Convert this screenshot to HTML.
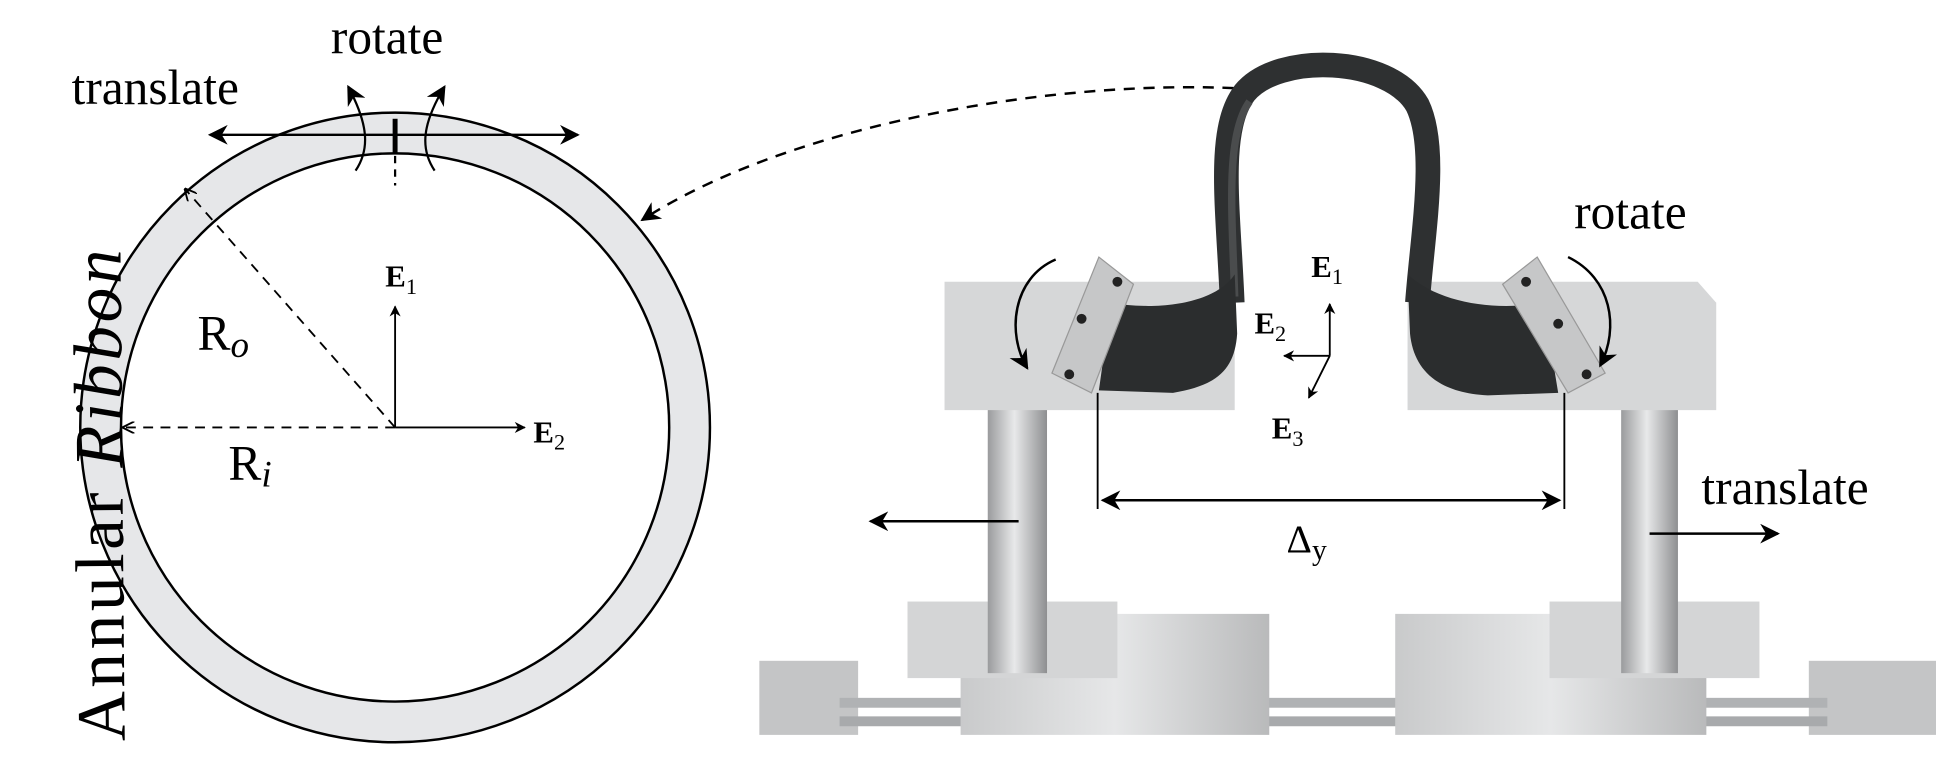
<!DOCTYPE html>
<html><head><style>html,body{margin:0;padding:0;background:#fff}svg{display:block}</style></head>
<body>
<svg width="1936" height="766" viewBox="0 0 1568 620" xmlns="http://www.w3.org/2000/svg" font-family="Liberation Serif, serif">
<defs>
<marker id="a" viewBox="0 0 10 10" refX="9" refY="5" markerWidth="9" markerHeight="9" orient="auto-start-reverse" markerUnits="userSpaceOnUse"><path d="M0,0 L10,5 L0,10 L3,5z" fill="#000"/></marker>
<marker id="b" viewBox="0 0 10 10" refX="9" refY="5" markerWidth="16" markerHeight="16" orient="auto-start-reverse" markerUnits="userSpaceOnUse"><path d="M0,0 L10,5 L0,10 L3,5z" fill="#000"/></marker>
<marker id="o" viewBox="0 0 10 10" refX="9" refY="5" markerWidth="10" markerHeight="10" orient="auto" markerUnits="userSpaceOnUse"><path d="M0,0 L10,5 L0,10" fill="none" stroke="#000" stroke-width="1.5"/></marker>
<linearGradient id="m" x1="0" x2="1"><stop offset="0" stop-color="#c9cacb"/><stop offset=".5" stop-color="#e6e7e8"/><stop offset="1" stop-color="#b9babb"/></linearGradient>
<linearGradient id="p" x1="0" x2="1"><stop offset="0" stop-color="#9a9b9d"/><stop offset=".45" stop-color="#e8e9ea"/><stop offset="1" stop-color="#8e8f91"/></linearGradient>
</defs>
<!-- left diagram -->
<circle cx="320" cy="346" r="239" fill="none" stroke="#e6e7e9" stroke-width="33"/>
<circle cx="320" cy="346" r="255" fill="none" stroke="#000" stroke-width="2"/>
<circle cx="320" cy="346" r="222" fill="none" stroke="#000" stroke-width="2"/>
<line x1="320" y1="346" x2="320" y2="248" stroke="#000" stroke-width="1.5" marker-end="url(#a)"/>
<line x1="320" y1="346" x2="425" y2="346" stroke="#000" stroke-width="1.5" marker-end="url(#a)"/>
<line x1="320" y1="346" x2="100" y2="346" stroke="#000" stroke-width="1.5" stroke-dasharray="8,6" marker-end="url(#o)"/>
<line x1="320" y1="346" x2="150" y2="153" stroke="#000" stroke-width="1.5" stroke-dasharray="8,6" marker-end="url(#o)"/>
<line x1="170" y1="109" x2="468" y2="109" stroke="#000" stroke-width="2" marker-start="url(#b)" marker-end="url(#b)"/>
<line x1="320" y1="96" x2="320" y2="124" stroke="#000" stroke-width="4"/>
<line x1="320" y1="126" x2="320" y2="150" stroke="#000" stroke-width="1.8" stroke-dasharray="6,5"/>
<path d="M288,138 C300,120 298,100 282,70" fill="none" stroke="#000" stroke-width="1.8" marker-end="url(#b)"/>
<path d="M352,138 C340,120 342,100 360,70" fill="none" stroke="#000" stroke-width="1.8" marker-end="url(#b)"/>
<text x="268" y="43" font-size="40">rotate</text>
<text x="58" y="84" font-size="40">translate</text>
<text x="312" y="232" font-size="25" font-weight="bold">E<tspan font-size="18" font-weight="normal" dy="6">1</tspan></text>
<text x="432" y="358" font-size="25" font-weight="bold">E<tspan font-size="18" font-weight="normal" dy="6">2</tspan></text>
<text x="160" y="283" font-size="40">R<tspan font-style="italic" font-size="30" dy="6">o</tspan></text>
<text x="185" y="388" font-size="40">R<tspan font-style="italic" font-size="30" dy="6">i</tspan></text>
<text transform="translate(101,600) rotate(-90.5)" font-size="56" letter-spacing="3">Annular <tspan font-style="italic">Ribbon</tspan></text>
<path d="M1015,72 C860,62 640,100 520,178" fill="none" stroke="#000" stroke-width="2" stroke-dasharray="9,7" marker-end="url(#b)"/>
<!-- photo -->
<rect x="615" y="535" width="80" height="60" fill="#c4c5c6"/>
<rect x="1465" y="535" width="103" height="60" fill="#c4c5c6"/>
<rect x="680" y="565" width="800" height="8" fill="#b0b2b4"/><rect x="680" y="580" width="800" height="8" fill="#a8aaac"/>
<rect x="778" y="497" width="250" height="98" fill="url(#m)"/>
<rect x="1130" y="497" width="252" height="98" fill="url(#m)"/>
<rect x="735" y="487" width="170" height="62" fill="#d4d5d6"/>
<rect x="1255" y="487" width="170" height="62" fill="#d4d5d6"/>
<rect x="800" y="330" width="48" height="215" fill="url(#p)"/>
<rect x="1313" y="330" width="46" height="215" fill="url(#p)"/>
<path d="M765,228 L1000,228 L1000,332 L765,332 L765,245z" fill="#d6d7d8"/>
<path d="M1140,228 L1375,228 L1390,245 L1390,332 L1140,332z" fill="#d6d7d8"/>
<!-- ribbon loop -->
<path d="M998,245 C995,170 985,105 1008,75 C1035,42 1125,45 1148,85 C1165,120 1152,190 1148,245" fill="none" stroke="#2e3031" stroke-width="20"/>
<path d="M1000,240 C998,175 992,110 1012,82" fill="none" stroke="#4a4c4d" stroke-width="6"/>
<!-- bowls -->
<path d="M900,245 C940,252 985,245 1000,222 L1002,270 C1000,300 985,312 950,318 L890,316z" fill="#2b2d2e"/>
<path d="M1250,245 C1210,252 1165,245 1140,222 L1142,270 C1145,300 1165,318 1205,320 L1262,318z" fill="#2b2d2e"/>
<!-- clamps -->
<path d="M890,208 L918,230 L884,318 L852,302z" fill="#c6c7c8" stroke="#999" stroke-width="1"/>
<path d="M1245,208 L1217,230 L1270,318 L1300,302z" fill="#c6c7c8" stroke="#999" stroke-width="1"/>
<circle cx="905" cy="228" r="4" fill="#222"/><circle cx="876" cy="258" r="4" fill="#222"/><circle cx="866" cy="303" r="4" fill="#222"/>
<circle cx="1236" cy="228" r="4" fill="#222"/><circle cx="1262" cy="262" r="4" fill="#222"/><circle cx="1285" cy="303" r="4" fill="#222"/>
<!-- photo annotations -->
<line x1="889" y1="318" x2="889" y2="412" stroke="#000" stroke-width="1.5"/>
<line x1="1267" y1="318" x2="1267" y2="412" stroke="#000" stroke-width="1.5"/>
<line x1="893" y1="405" x2="1263" y2="405" stroke="#000" stroke-width="2" marker-start="url(#b)" marker-end="url(#b)"/>
<text x="1042" y="447" font-size="32">Δ<tspan font-size="24" dy="6">y</tspan></text>
<line x1="1077" y1="288" x2="1077" y2="246" stroke="#000" stroke-width="1.5" marker-end="url(#a)"/>
<line x1="1077" y1="288" x2="1040" y2="288" stroke="#000" stroke-width="1.5" marker-end="url(#a)"/>
<line x1="1077" y1="288" x2="1060" y2="322" stroke="#000" stroke-width="1.5" marker-end="url(#a)"/>
<text x="1062" y="224" font-size="25" font-weight="bold">E<tspan font-size="18" font-weight="normal" dy="6">1</tspan></text>
<text x="1016" y="270" font-size="25" font-weight="bold">E<tspan font-size="18" font-weight="normal" dy="6">2</tspan></text>
<text x="1030" y="355" font-size="25" font-weight="bold">E<tspan font-size="18" font-weight="normal" dy="6">3</tspan></text>
<path d="M855,210 C820,225 815,270 832,298" fill="none" stroke="#000" stroke-width="2" marker-end="url(#b)"/>
<path d="M1270,208 C1305,225 1312,265 1296,296" fill="none" stroke="#000" stroke-width="2" marker-end="url(#b)"/>
<text x="1275" y="185" font-size="40">rotate</text>
<text x="1378" y="408" font-size="40">translate</text>
<line x1="825" y1="422" x2="705" y2="422" stroke="#000" stroke-width="2" marker-end="url(#b)"/>
<line x1="1336" y1="432" x2="1440" y2="432" stroke="#000" stroke-width="2" marker-end="url(#b)"/>
</svg>
</body></html>
